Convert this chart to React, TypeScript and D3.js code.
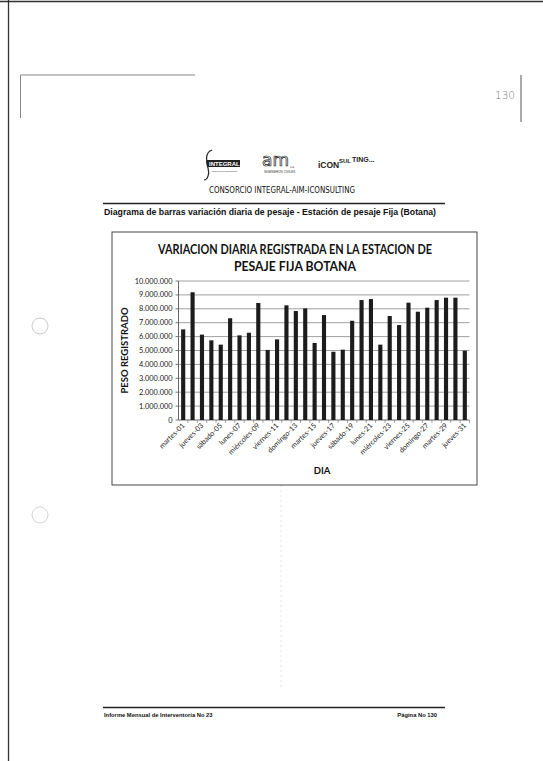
import React from "react";
import * as d3 from "d3";

const days = [
  "martes-01","miércoles-02","jueves-03","viernes-04","sábado-05","domingo-06","lunes-07","martes-08",
  "miércoles-09","jueves-10","viernes-11","sábado-12","domingo-13","lunes-14","martes-15","miércoles-16",
  "jueves-17","viernes-18","sábado-19","domingo-20","lunes-21","martes-22","miércoles-23","jueves-24",
  "viernes-25","sábado-26","domingo-27","lunes-28","martes-29","miércoles-30","jueves-31",
];
const pesos = [
  6520000, 9190000, 6140000, 5730000, 5420000, 7320000, 6090000, 6280000,
  8420000, 5040000, 5800000, 8250000, 7840000, 8030000, 5540000, 7550000,
  4910000, 5060000, 7140000, 8630000, 8700000, 5420000, 7480000, 6830000,
  8440000, 7790000, 8080000, 8630000, 8800000, 8800000, 4990000,
];
const yTicks = [0, 1000000, 2000000, 3000000, 4000000, 5000000, 6000000, 7000000, 8000000, 9000000, 10000000];
const chartTitle = ["VARIACION DIARIA REGISTRADA EN LA ESTACION DE", "PESAJE FIJA BOTANA"];
const yTitle = "PESO REGISTRADO";
const xTitle = "DIA";
const caption = "Diagrama de barras variación diaria de pesaje - Estación de pesaje Fija (Botana)";
const consorcio = "CONSORCIO INTEGRAL-AIM-ICONSULTING";
const footerLeft = "Informe Mensual de Interventoría No 23";
const footerRight = "Página No 130";

const fmt = (v: number) => (v === 0 ? "0" : d3.format(",")(v).replace(/,/g, "."));

export default function App() {
  const plotL = 178.5, plotR = 469.5, plotT = 281, plotB = 420;
  const x = d3.scaleBand<string>().domain(days).range([plotL, plotR]).paddingInner(0.56).paddingOuter(0.28);
  const y = d3.scaleLinear().domain([0, 10000000]).range([plotB, plotT]);
  const labelFont = "Lato, 'Open Sans', 'DejaVu Sans', sans-serif";
  const arial = "'Liberation Sans', Arial, sans-serif";

  return (
    <svg width={543} height={761} style={{ position: "absolute", left: 0, top: 0, background: "#fff" }}>
      <rect x={0} y={0} width={543} height={761} fill="#fff" />
      {/* scan frame */}
      <line x1={0} y1={1.5} x2={543} y2={1.5} stroke="#333" strokeWidth={1.5} />
      <line x1={8.5} y1={0} x2={8.5} y2={761} stroke="#333" strokeWidth={1.3} />
      <line x1={20.5} y1={75} x2={195} y2={75} stroke="#888" strokeWidth={1} />
      <line x1={20.5} y1={75} x2={20.5} y2={118} stroke="#888" strokeWidth={1} />
      <line x1={521} y1={75} x2={521} y2={122} stroke="#555" strokeWidth={1} />
      <circle cx={40} cy={326} r={8} fill="none" stroke="#bbb" strokeWidth={0.8} />
      <circle cx={40} cy={515} r={8} fill="none" stroke="#ccc" strokeWidth={0.8} />
      <line x1={281} y1={440} x2={281} y2={690} stroke="#ccc" strokeWidth={0.6} strokeDasharray="2,3" />
      <text x={495} y={99} fontFamily="'DejaVu Sans', sans-serif" fontSize={11} fill="#777" fontWeight="300" textLength={20} lengthAdjust="spacingAndGlyphs">130</text>

      {/* logos */}
      <g fontFamily={arial}>
        <path d="M212,150 C205,152 206,162 208,168 C210,175 207,180 204,180" fill="none" stroke="#222" strokeWidth={1.2} />
        <rect x={207} y={160} width={33} height={7} fill="#222" />
        <text x={209} y={166} fontSize={6} fill="#fff" fontWeight="bold">INTEGRAL</text>
        <text x={212} y={172} fontSize={2.5} fill="#333">ingenieros consultores</text>
        <text x={262} y={166} fontSize={17} fill="none" stroke="#222" strokeWidth={0.7} fontFamily="'DejaVu Sans', sans-serif">am</text>
        <text x={290} y={168} fontSize={3} fill="#333">s.a.</text>
        <text x={264} y={173} fontSize={3} fill="#333">INGENIEROS CIVILES</text>
        <text x={318} y={168} fontSize={8.5} fontWeight="bold" fill="#222">iCON</text>
        <text x={339} y={163} fontSize={6} fontWeight="bold" fill="#222">SUL</text>
        <text x={352} y={162} fontSize={7} fontWeight="bold" fill="#222">TING...</text>
      </g>
      <text x={282} y={193} textAnchor="middle" fontFamily="'DejaVu Sans Condensed', 'Liberation Sans Narrow', sans-serif" fontSize={9.5} fill="#111" textLength={146} lengthAdjust="spacingAndGlyphs">{consorcio}</text>
      <line x1={103} y1={203.5} x2={445} y2={203.5} stroke="#222" strokeWidth={1.3} />
      <text x={104} y={215} fontFamily={arial} fontWeight="bold" fontSize={8.4} fill="#111" textLength={332} lengthAdjust="spacingAndGlyphs">{caption}</text>

      {/* chart box */}
      <rect x={112} y={232} width={365} height={253} fill="#fff" stroke="#444" strokeWidth={1} />
      {chartTitle.map((t, i) => (
        <text key={i} x={295} y={254 + i * 17} textAnchor="middle" fontFamily={labelFont} fontWeight="bold" fontSize={12.5} fill="#111" textLength={i === 0 ? 274 : 122} lengthAdjust="spacingAndGlyphs">{t}</text>
      ))}

      {/* grid */}
      {yTicks.map((t) => (
        <g key={t}>
          {t > 0 && <line x1={plotL} x2={plotR} y1={y(t)} y2={y(t)} stroke="#888" strokeWidth={0.8} />}
          <line x1={plotL - 3} x2={plotL} y1={y(t)} y2={y(t)} stroke="#555" strokeWidth={0.8} />
          <text x={plotL - 6} y={y(t)} dy="0.35em" textAnchor="end" fontFamily={labelFont} fontSize={7.4} fill="#222">{fmt(t)}</text>
        </g>
      ))}
      <line x1={plotL} x2={plotL} y1={plotT} y2={plotB} stroke="#555" strokeWidth={0.9} />
      <line x1={plotL} x2={plotR} y1={plotB} y2={plotB} stroke="#555" strokeWidth={0.9} />

      {/* bars */}
      {days.map((d, i) => (
        <rect key={d} x={x(d)} y={y(pesos[i])} width={x.bandwidth()} height={plotB - y(pesos[i])} fill="#1c1c1c" />
      ))}
      {days.map((d, i) => (
        <line key={"t" + d} x1={plotL + x.step() * (i + 1)} x2={plotL + x.step() * (i + 1)} y1={plotB} y2={plotB + 3} stroke="#666" strokeWidth={0.6} />
      ))}
      {days.map((d, i) =>
        i % 2 === 0 ? (
          <text key={"l" + d} transform={`translate(${x(d)! + x.bandwidth() / 2 + 2},${plotB + 6}) rotate(-45)`} textAnchor="end" fontFamily={labelFont} fontSize={7.2} fill="#222">{d}</text>
        ) : null
      )}
      <text transform={`translate(128,${(plotT + plotB) / 2}) rotate(-90)`} textAnchor="middle" fontFamily={labelFont} fontWeight="bold" fontSize={9.5} fill="#111">{yTitle}</text>
      <text x={322} y={474} textAnchor="middle" fontFamily={labelFont} fontWeight="bold" fontSize={9.5} fill="#111">{xTitle}</text>

      {/* footer */}
      <line x1={103} y1={707.5} x2={445} y2={707.5} stroke="#222" strokeWidth={1.3} />
      <text x={104} y={717} fontFamily={arial} fontWeight="bold" fontSize={5.8} fill="#111">{footerLeft}</text>
      <text x={437} y={717} textAnchor="end" fontFamily={arial} fontWeight="bold" fontSize={5.8} fill="#111">{footerRight}</text>
    </svg>
  );
}
